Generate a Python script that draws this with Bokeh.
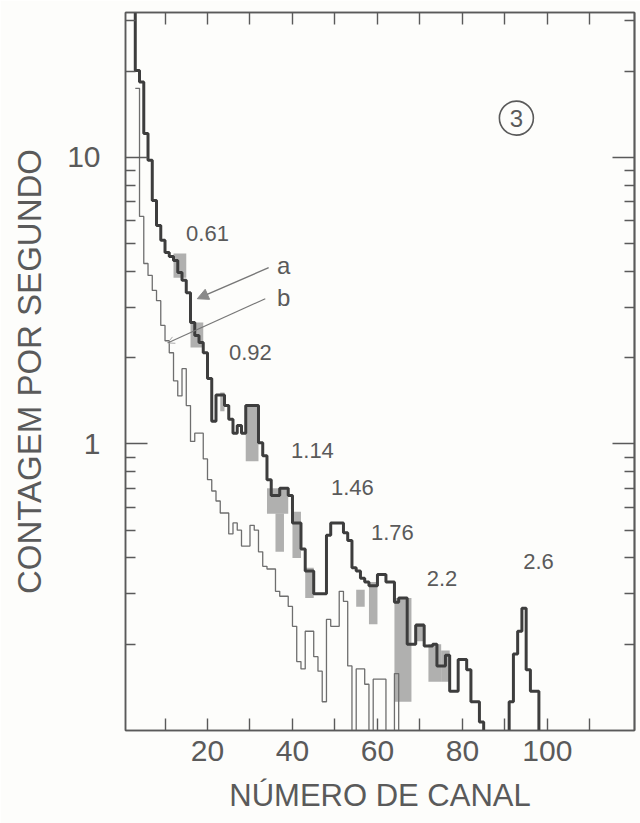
import numpy as np
from bokeh.plotting import figure
from bokeh.models import (FixedTicker, LinearAxis, LogAxis,
                          PrintfTickFormatter, Range1d, Arrow, NormalHead, OpenHead)
from bokeh.core.properties import value
from bokeh.embed import file_html
from bokeh.resources import INLINE

# ---------------- data ----------------
# spectrum "a" (thick curve), counts per second per channel (0.05 = below scale)
channel_a = list(range(2, 99))
counts_a = [50, 20.1, 18.3, 12.1, 9.76, 7.07, 5.78, 5.13, 4.65, 4.51,
            4.36, 3.96, 3.72, 3.37, 2.65, 2.39, 2.26, 2.08, 1.69, 1.20,
            1.48, 1.48, 1.36, 1.22, 1.09, 1.16, 1.09, 1.36, 1.36, 1.36,
            1.01, 0.91, 0.75, 0.66, 0.66, 0.70, 0.70, 0.66, 0.53, 0.53,
            0.43, 0.36, 0.36, 0.30, 0.30, 0.30, 0.48, 0.53, 0.53, 0.53,
            0.49, 0.46, 0.37, 0.36, 0.34, 0.33, 0.32, 0.32, 0.35, 0.35,
            0.33, 0.33, 0.28, 0.29, 0.29, 0.20, 0.20, 0.233, 0.233, 0.197,
            0.197, 0.20, 0.168, 0.168, 0.183, 0.137, 0.137, 0.177, 0.177, 0.163,
            0.126, 0.126, 0.107, 0.05, 0.05, 0.05, 0.05, 0.05, 0.05, 0.126,
            0.185, 0.222, 0.267, 0.163, 0.137, 0.137, 0.05]

# spectrum "b" (thin curve)
channel_b = list(range(3, 66))
counts_b = [17.4, 6.22, 4.26, 3.87, 3.43, 3.16, 2.59, 2.29, 2.08, 1.66,
            1.47, 1.83, 1.36, 1.02, 1.09, 1.09, 0.886, 0.75, 0.685, 0.632,
            0.574, 0.574, 0.485, 0.53, 0.50, 0.44, 0.44, 0.52, 0.50, 0.42,
            0.374, 0.366, 0.366, 0.306, 0.294, 0.294, 0.271, 0.231, 0.174, 0.164,
            0.222, 0.222, 0.181, 0.161, 0.126, 0.244, 0.231, 0.231, 0.306, 0.282,
            0.168, 0.05, 0.164, 0.164, 0.145, 0.05, 0.151, 0.151, 0.151, 0.05,
            0.05, 0.158, 0.05]

# grey shaded spread of spectrum "a"
shade_left = [12, 16, 23, 29, 34, 36, 40, 43, 55, 58, 64, 69, 72, 75]
shade_right = [15, 19, 24, 32, 39, 38, 42, 45, 57, 60, 68, 71, 75, 77]
shade_low = [3.80, 2.17, 1.30, 0.87, 0.57, 0.42, 0.40, 0.29, 0.27, 0.235, 0.126, 0.205, 0.148, 0.148]
shade_high = [4.62, 2.65, 1.51, 1.36, 0.70, 0.57, 0.58, 0.37, 0.31, 0.33, 0.29, 0.237, 0.20, 0.19]

# peak energy labels (MeV)
peak_labels = ["0.61", "0.92", "1.14", "1.46", "1.76", "2.2", "2.6"]
peak_x = [20.0, 30.1, 44.7, 54.1, 63.5, 75.2, 97.9]
peak_y = [5.42, 2.08, 0.945, 0.707, 0.49, 0.34, 0.39]

# curve identifiers and their pointer lines
curve_names = ["a", "b"]
name_x = [37.9, 37.9]
name_y = [4.19, 3.24]
arrow_x0 = [34.4, 33.6]
arrow_y0 = [4.12, 3.21]
arrow_x1 = [17.6, 10.6]
arrow_y1 = [3.21, 2.25]

# panel number
panel_label = ["3"]
panel_x = [92.7]
panel_y = [13.7]

x_tick_major = [20, 40, 60, 80, 100]
x_tick_minor = [10, 30, 50, 70, 90, 110]
y_tick_major = [1, 10]
y_tick_minor = [0.2, 0.3, 0.4, 0.5, 0.6, 0.7, 0.8, 0.9,
                2, 3, 4, 5, 6, 7, 8, 9, 20, 30]

# ---------------- figure ----------------
FONT = "Liberation Sans"
INK = "#5a5a5a"
BG = "#fdfdfb"

p = figure(width=640, height=823, y_axis_type="log",
           x_range=Range1d(0.7, 120.5), y_range=Range1d(0.1, 32),
           output_backend="svg", toolbar_location=None,
           min_border_left=125, min_border_right=6,
           min_border_top=12, min_border_bottom=93)
p.background_fill_color = BG
p.border_fill_color = BG
p.outline_line_color = INK
p.outline_line_width = 1.5
p.grid.visible = False

p.quad(left=shade_left, right=shade_right, bottom=shade_low, top=shade_high,
       fill_color="#8e8e8e", fill_alpha=0.7, line_color=None)

xa = channel_a + [channel_a[-1] + 1]
ya = counts_a + [counts_a[-1]]
p.step(xa, ya, mode="after", line_width=3, line_color="#3d3d3d")

xb = channel_b + [channel_b[-1] + 1]
yb = counts_b + [counts_b[-1]]
p.step(xb, yb, mode="after", line_width=1.3, line_color="#6e6e6e")

p.text(x=peak_x, y=peak_y, text=peak_labels, text_font=value(FONT),
       text_font_size="22px", text_align="center", text_baseline="middle",
       text_color=INK)
p.text(x=name_x, y=name_y, text=curve_names, text_font=value(FONT),
       text_font_size="24px", text_align="center", text_baseline="middle",
       text_color=INK)
p.scatter(x=panel_x, y=panel_y, marker="circle", size=34, fill_color=None,
          line_color=INK, line_width=1.6)
p.text(x=panel_x, y=panel_y, text=panel_label, text_font=value(FONT),
       text_font_size="24px", text_align="center", text_baseline="middle",
       text_color=INK)

p.add_layout(Arrow(end=NormalHead(size=11, fill_color="#8a8a8a", line_color="#8a8a8a"),
                   x_start=arrow_x0[0], y_start=arrow_y0[0],
                   x_end=arrow_x1[0], y_end=arrow_y1[0],
                   line_color="#777777", line_width=1.4))
p.add_layout(Arrow(end=OpenHead(size=7, line_color="#aaaaaa", line_width=1),
                   x_start=arrow_x0[1], y_start=arrow_y0[1],
                   x_end=arrow_x1[1], y_end=arrow_y1[1],
                   line_color="#777777", line_width=1.2))


def style(ax, major_len, minor_len):
    ax.axis_line_color = INK
    ax.axis_line_width = 1.5
    ax.major_tick_line_color = INK
    ax.minor_tick_line_color = INK
    ax.major_tick_line_width = 1.4
    ax.minor_tick_line_width = 1.4
    ax.major_tick_in = major_len
    ax.major_tick_out = 0
    ax.minor_tick_in = minor_len
    ax.minor_tick_out = 0
    ax.major_label_text_font = FONT
    ax.major_label_text_color = INK
    ax.axis_label_text_font = FONT
    ax.axis_label_text_color = INK
    ax.axis_label_text_font_style = "normal"


xax = p.xaxis[0]
xax.ticker = FixedTicker(ticks=x_tick_major, minor_ticks=x_tick_minor)
style(xax, 12, 12)
xax.major_label_text_font_size = "30px"
xax.major_label_standoff = 10
xax.axis_label = "NÚMERO DE CANAL"
xax.axis_label_text_font_size = "31px"
xax.axis_label_standoff = 14

yax = p.yaxis[0]
yax.ticker = FixedTicker(ticks=y_tick_major, minor_ticks=y_tick_minor)
yax.formatter = PrintfTickFormatter(format="%d")
style(yax, 22, 10)
yax.major_label_text_font_size = "30px"
yax.major_label_standoff = 25
yax.major_label_orientation = "horizontal"
yax.axis_label = "CONTAGEM POR SEGUNDO"
yax.axis_label_text_font_size = "33px"
yax.axis_label_standoff = 16

# mirrored ticks on the top and right frame edges (no labels)
top = LinearAxis(ticker=FixedTicker(ticks=[], minor_ticks=x_tick_major + x_tick_minor))
style(top, 12, 12)
p.add_layout(top, "above")

right_minor = LogAxis(ticker=FixedTicker(ticks=[], minor_ticks=y_tick_minor))
style(right_minor, 10, 10)
p.add_layout(right_minor, "right")

right_major = LogAxis(ticker=FixedTicker(ticks=[], minor_ticks=y_tick_major))
style(right_major, 22, 22)
p.add_layout(right_major, "right")

open("out.html", "w").write(file_html(p, INLINE))
